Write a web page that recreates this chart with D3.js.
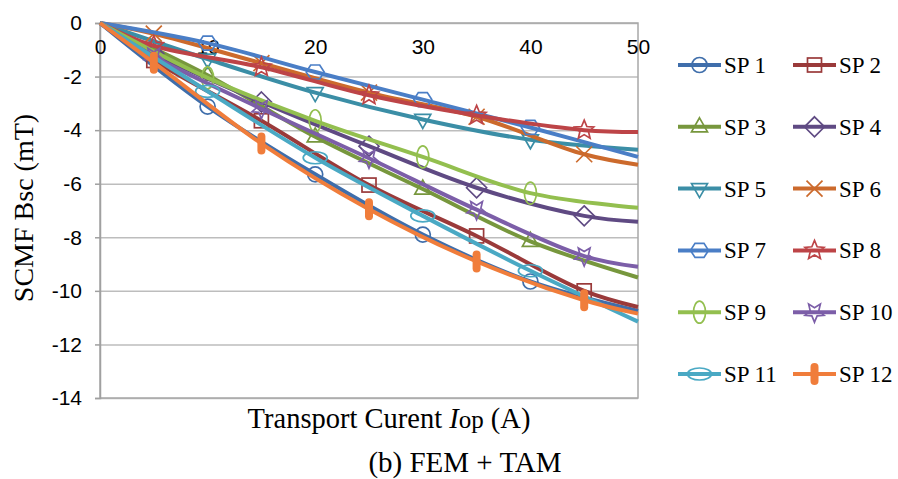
<!DOCTYPE html>
<html>
<head>
<meta charset="utf-8">
<script src="https://cdn.jsdelivr.net/npm/d3@7"></script>
<style>
  body { margin: 0; background: #fff; }
  svg { display: block; font-family: 'Liberation Serif', 'Times New Roman', serif; }
  .axis text { font-size: 21px; fill: #000; }
  .grid line { stroke: #bdbdbd; stroke-width: 1.5; }
  .grid .domain { display: none; }
</style>
</head>
<body>
<svg id="chart" width="898" height="479"></svg>
<script>
// x positions: odd series sampled every 10 A, even series offset by 5 A
const oddX = [0, 10, 20, 30, 40, 50];
const evenX = [0, 5, 15, 25, 35, 45, 50];

const seriesNames = ['SP 1', 'SP 2', 'SP 3', 'SP 4', 'SP 5', 'SP 6',
  'SP 7', 'SP 8', 'SP 9', 'SP 10', 'SP 11', 'SP 12'];

const sp1 = [0, -3.12, -5.65, -7.9, -9.65, -10.75];
const sp2 = [0, -1.4, -3.65, -6.05, -7.95, -10.0, -10.6];
const sp3 = [0, -1.95, -4.25, -6.2, -8.15, -9.5];
const sp4 = [0, -1.15, -2.95, -4.6, -6.15, -7.2, -7.42];
const sp5 = [0, -1.35, -2.6, -3.6, -4.36, -4.73];
const sp6 = [0, -0.4, -1.5, -2.6, -3.5, -4.9, -5.29];
const sp7 = [0, -0.75, -1.83, -2.86, -3.9, -5.0];
const sp8 = [0, -0.85, -1.65, -2.7, -3.45, -4.0, -4.07];
const sp9 = [0, -2.05, -3.65, -5.0, -6.35, -6.9];
const sp10 = [0, -1.25, -3.2, -5.05, -6.97, -8.7, -9.1];
const sp11 = [0, -2.55, -5.03, -7.2, -9.25, -11.15];
const sp12 = [0, -1.48, -4.5, -6.95, -8.9, -10.35, -10.85];

const seriesValues = [sp1, sp2, sp3, sp4, sp5, sp6, sp7, sp8, sp9, sp10, sp11, sp12];

const colors = ['#3f6eab', '#9a3a3a', '#77973d', '#5f4a83', '#3b8ea6', '#cc6a2c',
  '#4a7ec6', '#bd4447', '#93bf4f', '#7c5ea8', '#4aa9c4', '#f07d3b'];
const markerTypes = ['circle', 'square', 'triangle', 'diamond', 'triangleDown', 'cross',
  'hexagon', 'star', 'ellipseV', 'starDown', 'ellipseH', 'bar'];

const xTicks = [0, 10, 20, 30, 40, 50];
const yTicks = [0, -2, -4, -6, -8, -10, -12, -14];

const margin = { top: 23, left: 100 };
const width = 538;
const height = 375;

const svg = d3.select('#chart');
const chart = svg.append('g')
  .attr('transform', `translate(${margin.left},${margin.top})`);

const xScale = d3.scaleLinear().domain([0, 50]).range([0, width]);
const yScale = d3.scaleLinear().domain([-14, 0]).range([height, 0]);

// gridlines
chart.append('g')
  .attr('class', 'grid')
  .call(d3.axisLeft(yScale).tickValues(yTicks).tickSize(-width).tickFormat(''));

// plot border (right + bottom)
chart.append('rect')
  .attr('width', width)
  .attr('height', height)
  .attr('fill', 'none')
  .attr('stroke', '#a8a8a8')
  .attr('stroke-width', 1.5);

const yAxisG = chart.append('g')
  .attr('class', 'axis y-axis')
  .call(d3.axisLeft(yScale).tickValues(yTicks).tickSize(5).tickPadding(13));
yAxisG.selectAll('line, .domain').attr('stroke', '#a0a0a0').attr('stroke-width', 1.5);
yAxisG.selectAll('text').text(d => d === 0 ? '0' : '-' + Math.abs(d));

const xAxisG = chart.append('g')
  .attr('class', 'axis x-axis')
  .call(d3.axisBottom(xScale).tickValues(xTicks).tickSize(0).tickPadding(16));
xAxisG.select('.domain').remove();

function drawMarker(g, type, color) {
  const sw = 1.7;
  if (type === 'circle') {
    g.append('circle').attr('r', 7.5);
  } else if (type === 'square') {
    g.append('rect').attr('x', -7).attr('y', -7).attr('width', 14).attr('height', 14);
  } else if (type === 'triangle') {
    g.append('path').attr('d', 'M0,-9L8,5L-8,5Z');
  } else if (type === 'triangleDown') {
    g.append('path').attr('d', 'M0,9L8,-5L-8,-5Z');
  } else if (type === 'diamond') {
    g.append('path').attr('d', 'M0,-10L10,0L0,10L-10,0Z');
  } else if (type === 'cross') {
    g.append('path').attr('d', 'M-8,-8L8,8M-8,8L8,-8');
  } else if (type === 'hexagon') {
    g.append('path').attr('d', 'M-9,0L-4.5,-7L4.5,-7L9,0L4.5,7L-4.5,7Z');
  } else if (type === 'star' || type === 'starDown') {
    const pts = d3.range(10).map(i => {
      const r = i % 2 === 0 ? 10 : 4.5;
      const a = -Math.PI / 2 + i * Math.PI / 5;
      return [r * Math.cos(a), r * Math.sin(a) * (type === 'starDown' ? -1 : 1)];
    });
    g.append('path').attr('d', 'M' + pts.join('L') + 'Z');
  } else if (type === 'ellipseV') {
    g.append('ellipse').attr('rx', 6).attr('ry', 11);
  } else if (type === 'ellipseH') {
    g.append('ellipse').attr('rx', 12).attr('ry', 6);
  } else if (type === 'bar') {
    g.append('rect').attr('x', -4).attr('y', -11).attr('width', 8).attr('height', 22)
      .attr('rx', 4).attr('fill', color).attr('stroke', 'none');
    return;
  }
  g.selectAll('*').attr('fill', 'none').attr('stroke', color).attr('stroke-width', sw);
}

const line = d3.line()
  .x(d => xScale(d[0]))
  .y(d => yScale(d[1]))
  .curve(d3.curveCatmullRom);

seriesValues.forEach((vals, i) => {
  const xs = i % 2 === 0 ? oddX : evenX;
  const pts = vals.map((v, j) => [xs[j], v]);
  const g = chart.append('g').attr('class', 'series');
  g.append('path')
    .datum(pts)
    .attr('d', line)
    .attr('fill', 'none')
    .attr('stroke', colors[i])
    .attr('stroke-width', 4)
    .attr('stroke-linejoin', 'round');
  pts.slice(1, -1).forEach(p => {
    const m = g.append('g').attr('transform', `translate(${xScale(p[0])},${yScale(p[1])})`);
    drawMarker(m, markerTypes[i], colors[i]);
  });
});

// axis titles
svg.append('text')
  .attr('transform', 'translate(33,208) rotate(-90)')
  .attr('text-anchor', 'middle')
  .attr('font-size', 28)
  .attr('fill', '#000')
  .text('SCMF Bsc (mT)');

const xTitle = svg.append('text')
  .attr('x', 389)
  .attr('y', 428)
  .attr('text-anchor', 'middle')
  .attr('font-size', 28.5)
  .attr('fill', '#000');
xTitle.append('tspan').text('Transport Curent ');
xTitle.append('tspan').attr('font-style', 'italic').text('I');
xTitle.append('tspan').attr('font-size', 25).text('op');
xTitle.append('tspan').text(' (A)');

svg.append('text')
  .attr('x', 465)
  .attr('y', 472)
  .attr('text-anchor', 'middle')
  .attr('font-size', 29)
  .attr('fill', '#000')
  .text('(b) FEM + TAM');

// legend, two columns
const legend = svg.append('g').attr('class', 'legend');
seriesNames.forEach((name, i) => {
  const col = i % 2;
  const row = Math.floor(i / 2);
  const lg = legend.append('g')
    .attr('transform', `translate(${678 + col * 115},${65 + row * 61.8})`);
  lg.append('line')
    .attr('x1', 0).attr('x2', 43)
    .attr('stroke', colors[i])
    .attr('stroke-width', 4);
  drawMarker(lg.append('g').attr('transform', 'translate(21.5,0)'), markerTypes[i], colors[i]);
  lg.append('text')
    .attr('x', 46)
    .attr('y', 8)
    .attr('font-size', 23)
    .attr('fill', '#000')
    .text(name);
});
</script>
</body>
</html>
